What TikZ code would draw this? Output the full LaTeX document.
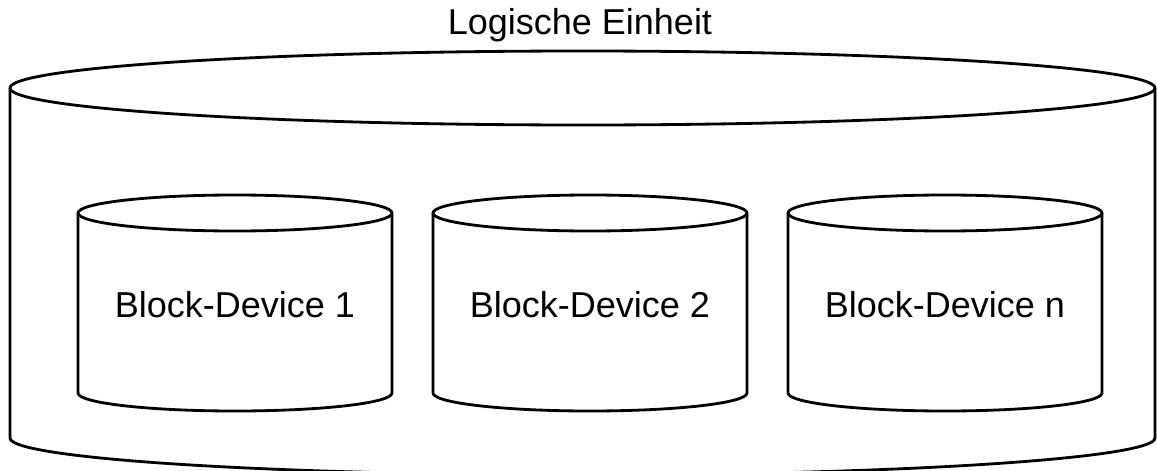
\documentclass[tikz,border=0pt]{standalone}
\usepackage{fontspec}
\setmainfont{Liberation Sans}
\tikzset{
    wall/.style={line width=2pt, line join=round},
    devlabel/.style={font=\fontsize{25.6}{30}\selectfont, inner sep=0pt},
}
\begin{document}
\begin{tikzpicture}[x=0.025cm, y=0.025cm]
\useasboundingbox (0,0) rectangle (1157,470);

% Logical unit (outer cylinder)
\draw[wall] (10,382) -- (10,32) arc[start angle=180, end angle=360, x radius=572.5, y radius=37] -- (1155,382);
\draw[wall] (582.5,382) ellipse [x radius=572.5, y radius=37];
\node[devlabel, anchor=base] (unit) at (580,436) {Logische Einheit};

% Block devices
\foreach \cx/\dev in {235/1, 590/2, 945/n} {
    \draw[wall] ({\cx-157},257) -- ({\cx-157},77) arc[start angle=180, end angle=360, x radius=157, y radius=18] -- ({\cx+157},257);
    \draw[wall] (\cx,257) ellipse [x radius=157, y radius=18];
    \node[devlabel] (dev\dev) at (\cx,165) {Block-Device \dev};
}
\end{tikzpicture}
\end{document}
